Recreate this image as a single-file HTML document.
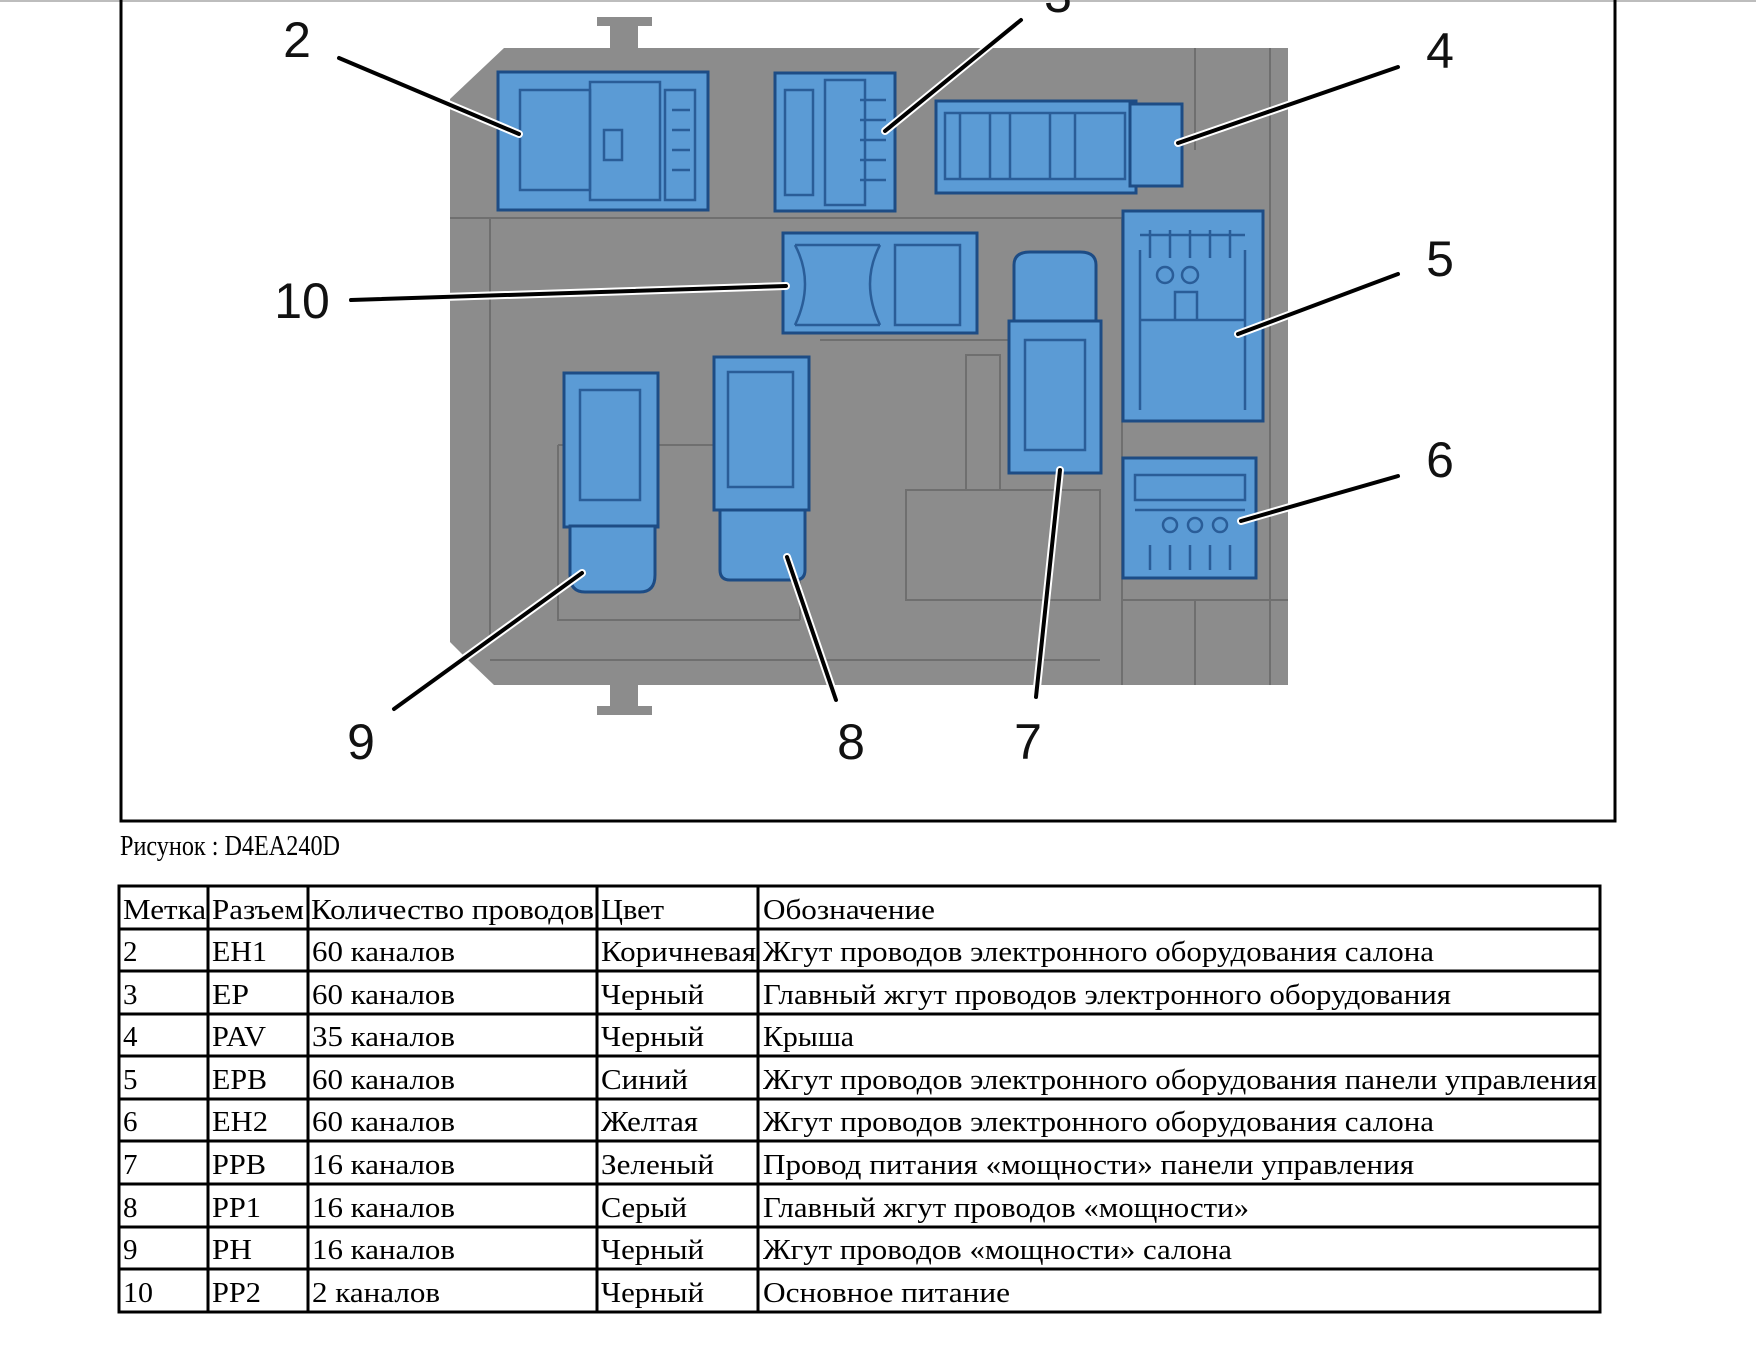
<!DOCTYPE html>
<html><head><meta charset="utf-8"><style>
html,body{margin:0;padding:0;background:#fff;}
svg{display:block;}
.t{font-family:"Liberation Serif",serif;font-size:29px;fill:#000;}
.n{font-family:"Liberation Sans",sans-serif;font-size:50px;fill:#111;}
.bl{fill:#5b9bd5;stroke:#1d4c85;stroke-width:3;}
.bi{fill:none;stroke:#2a5d98;stroke-width:2.5;}
.gl{fill:none;stroke:#6f6f6f;stroke-width:2;}
.ld{stroke:#000;stroke-width:4;fill:none;stroke-linecap:round;}
.hl{stroke:#fff;stroke-width:8;fill:none;stroke-linecap:round;}
</style></head><body>
<svg width="1756" height="1364" viewBox="0 0 1756 1364" xmlns="http://www.w3.org/2000/svg">
<rect x="0" y="0" width="1756" height="2" fill="#bdbdbd"/>
<path d="M121 0 V821 H1615 V0" fill="none" stroke="#000" stroke-width="3"/>
<rect x="610" y="24" width="28" height="26" fill="#8c8c8c"/>
<rect x="597" y="17" width="55" height="9" fill="#8c8c8c"/>
<rect x="610" y="684" width="28" height="24" fill="#8c8c8c"/>
<rect x="597" y="706" width="55" height="9" fill="#8c8c8c"/>
<path d="M504 48 H1288 V685 H494 L470 662 L450 642 V99 Z" fill="#8c8c8c"/>
<path class="gl" d="M450 218 H1122 M490 218 V642 M558 445 H800 V620 M558 445 V620 H800 M906 490 H1100 V600 H906 Z M966 355 H1000 V490 H966 Z M820 340 H1100 M1122 600 H1288 M1195 600 V685 M1270 48 V685 M1195 48 V150 M1122 218 V685 M490 660 H1100"/>
<rect class="bl" x="498" y="72" width="210" height="138"/>
<rect class="bi" x="520" y="90" width="70" height="100"/>
<rect class="bi" x="590" y="82" width="70" height="118"/>
<rect class="bi" x="604" y="130" width="18" height="30"/>
<rect class="bi" x="665" y="90" width="30" height="110"/>
<path class="bi" d="M672 110 h18 M672 130 h18 M672 150 h18 M672 170 h18"/>
<rect class="bl" x="775" y="73" width="120" height="138"/>
<rect class="bi" x="785" y="90" width="28" height="105"/>
<rect class="bi" x="825" y="80" width="40" height="125"/>
<path class="bi" d="M860 100 h26 M860 120 h26 M860 140 h26 M860 160 h26 M860 180 h26"/>
<rect class="bl" x="936" y="101" width="200" height="92"/>
<rect class="bl" x="1130" y="104" width="52" height="82"/>
<rect class="bi" x="945" y="113" width="180" height="66"/>
<path class="bi" d="M960 113 V179 M990 113 V179 M1010 113 V179 M1050 113 V179 M1075 113 V179"/>
<rect class="bl" x="783" y="233" width="194" height="100"/>
<path class="bi" d="M795 245 Q815 283 795 325 M880 245 Q860 283 880 325 M795 245 H880 M795 325 H880 M895 245 H960 V325 H895 Z"/>
<path class="bl" d="M1014 325 V265 Q1014 252 1030 252 H1080 Q1096 252 1096 265 V325 Z"/>
<rect class="bl" x="1009" y="321" width="92" height="152"/>
<rect class="bi" x="1025" y="340" width="60" height="110"/>
<rect class="bl" x="1123" y="211" width="140" height="210"/>
<path class="bi" d="M1140 235 H1245 M1140 250 V410 M1245 250 V410 M1140 320 H1245 M1175 292 h22 v28 h-22 Z M1150 230 V258 M1170 230 V258 M1190 230 V258 M1210 230 V258 M1230 230 V258"/>
<circle class="bi" cx="1165" cy="275" r="8"/><circle class="bi" cx="1190" cy="275" r="8"/>
<rect class="bl" x="1123" y="458" width="133" height="120"/>
<path class="bi" d="M1135 475 H1245 V500 H1135 Z M1135 510 H1245 M1150 545 V570 M1170 545 V570 M1190 545 V570 M1210 545 V570 M1230 545 V570"/>
<circle class="bi" cx="1170" cy="525" r="7"/><circle class="bi" cx="1195" cy="525" r="7"/><circle class="bi" cx="1220" cy="525" r="7"/>
<rect class="bl" x="564" y="373" width="94" height="154"/>
<rect class="bi" x="580" y="390" width="60" height="110"/>
<path class="bl" d="M570 526 H655 V575 Q655 592 640 592 H585 Q570 592 570 575 Z"/>
<rect class="bl" x="714" y="357" width="95" height="153"/>
<rect class="bi" x="728" y="372" width="65" height="115"/>
<path class="bl" d="M720 510 H805 V570 Q805 580 795 580 H730 Q720 580 720 570 Z"/>
<g>
<path class="hl" d="M339 58 L519 134"/><path class="ld" d="M339 58 L519 134"/>
<path class="hl" d="M1021 20 L885 131"/><path class="ld" d="M1021 20 L885 131"/>
<path class="hl" d="M1398 67 L1178 143"/><path class="ld" d="M1398 67 L1178 143"/>
<path class="hl" d="M351 300 L786 286"/><path class="ld" d="M351 300 L786 286"/>
<path class="hl" d="M1398 274 L1238 334"/><path class="ld" d="M1398 274 L1238 334"/>
<path class="hl" d="M1398 476 L1241 521"/><path class="ld" d="M1398 476 L1241 521"/>
<path class="hl" d="M1060 470 L1036 697"/><path class="ld" d="M1060 470 L1036 697"/>
<path class="hl" d="M787 557 L836 700"/><path class="ld" d="M787 557 L836 700"/>
<path class="hl" d="M582 573 L394 709"/><path class="ld" d="M582 573 L394 709"/>
</g>
<text class="n" x="297" y="57" text-anchor="middle">2</text>
<text class="n" x="1058" y="12" text-anchor="middle">3</text>
<text class="n" x="1440" y="68" text-anchor="middle">4</text>
<text class="n" x="302" y="318" text-anchor="middle">10</text>
<text class="n" x="1440" y="276" text-anchor="middle">5</text>
<text class="n" x="1440" y="477" text-anchor="middle">6</text>
<text class="n" x="1028" y="759" text-anchor="middle">7</text>
<text class="n" x="851" y="759" text-anchor="middle">8</text>
<text class="n" x="361" y="759" text-anchor="middle">9</text>
<text class="t" x="120" y="855" font-size="24" textLength="220" lengthAdjust="spacingAndGlyphs">Рисунок : D4EA240D</text>
<g stroke="#000" stroke-width="3" fill="none">
<rect x="119" y="886" width="1481" height="426"/>
<path d="M208 886 V1312 M308 886 V1312 M597 886 V1312 M758 886 V1312"/>
<path d="M119 929 H1600 M119 971 H1600 M119 1014 H1600 M119 1056 H1600 M119 1099 H1600 M119 1141 H1600 M119 1184 H1600 M119 1227 H1600 M119 1269 H1600"/>
</g>
<g class="t">
<text x="123" y="919" textLength="83" lengthAdjust="spacingAndGlyphs">Метка</text>
<text x="212" y="919" textLength="92" lengthAdjust="spacingAndGlyphs">Разъем</text>
<text x="311" y="919" textLength="283" lengthAdjust="spacingAndGlyphs">Количество проводов</text>
<text x="601" y="919" textLength="63" lengthAdjust="spacingAndGlyphs">Цвет</text>
<text x="763" y="919" textLength="172" lengthAdjust="spacingAndGlyphs">Обозначение</text>

<text x="123" y="961">2</text><text x="212" y="961" textLength="55" lengthAdjust="spacingAndGlyphs">EH1</text><text x="312" y="961" textLength="143" lengthAdjust="spacingAndGlyphs">60 каналов</text><text x="601" y="961" textLength="155" lengthAdjust="spacingAndGlyphs">Коричневая</text><text x="763" y="961" textLength="671" lengthAdjust="spacingAndGlyphs">Жгут проводов электронного оборудования салона</text>

<text x="123" y="1004">3</text><text x="212" y="1004" textLength="37" lengthAdjust="spacingAndGlyphs">EP</text><text x="312" y="1004" textLength="143" lengthAdjust="spacingAndGlyphs">60 каналов</text><text x="601" y="1004" textLength="103" lengthAdjust="spacingAndGlyphs">Черный</text><text x="763" y="1004" textLength="688" lengthAdjust="spacingAndGlyphs">Главный жгут проводов электронного оборудования</text>

<text x="123" y="1046">4</text><text x="212" y="1046" textLength="54" lengthAdjust="spacingAndGlyphs">PAV</text><text x="312" y="1046" textLength="143" lengthAdjust="spacingAndGlyphs">35 каналов</text><text x="601" y="1046" textLength="103" lengthAdjust="spacingAndGlyphs">Черный</text><text x="763" y="1046" textLength="91" lengthAdjust="spacingAndGlyphs">Крыша</text>

<text x="123" y="1089">5</text><text x="212" y="1089" textLength="55" lengthAdjust="spacingAndGlyphs">EPB</text><text x="312" y="1089" textLength="143" lengthAdjust="spacingAndGlyphs">60 каналов</text><text x="601" y="1089" textLength="87" lengthAdjust="spacingAndGlyphs">Синий</text><text x="763" y="1089" textLength="834" lengthAdjust="spacingAndGlyphs">Жгут проводов электронного оборудования панели управления</text>

<text x="123" y="1131">6</text><text x="212" y="1131" textLength="56" lengthAdjust="spacingAndGlyphs">EH2</text><text x="312" y="1131" textLength="143" lengthAdjust="spacingAndGlyphs">60 каналов</text><text x="601" y="1131" textLength="97" lengthAdjust="spacingAndGlyphs">Желтая</text><text x="763" y="1131" textLength="671" lengthAdjust="spacingAndGlyphs">Жгут проводов электронного оборудования салона</text>

<text x="123" y="1174">7</text><text x="212" y="1174" textLength="54" lengthAdjust="spacingAndGlyphs">PPB</text><text x="312" y="1174" textLength="143" lengthAdjust="spacingAndGlyphs">16 каналов</text><text x="601" y="1174" textLength="113" lengthAdjust="spacingAndGlyphs">Зеленый</text><text x="763" y="1174" textLength="651" lengthAdjust="spacingAndGlyphs">Провод питания «мощности» панели управления</text>

<text x="123" y="1217">8</text><text x="212" y="1217" textLength="49" lengthAdjust="spacingAndGlyphs">PP1</text><text x="312" y="1217" textLength="143" lengthAdjust="spacingAndGlyphs">16 каналов</text><text x="601" y="1217" textLength="86" lengthAdjust="spacingAndGlyphs">Серый</text><text x="763" y="1217" textLength="486" lengthAdjust="spacingAndGlyphs">Главный жгут проводов «мощности»</text>

<text x="123" y="1259">9</text><text x="212" y="1259" textLength="40" lengthAdjust="spacingAndGlyphs">PH</text><text x="312" y="1259" textLength="143" lengthAdjust="spacingAndGlyphs">16 каналов</text><text x="601" y="1259" textLength="103" lengthAdjust="spacingAndGlyphs">Черный</text><text x="763" y="1259" textLength="469" lengthAdjust="spacingAndGlyphs">Жгут проводов «мощности» салона</text>

<text x="123" y="1302" textLength="30" lengthAdjust="spacingAndGlyphs">10</text><text x="212" y="1302" textLength="49" lengthAdjust="spacingAndGlyphs">PP2</text><text x="312" y="1302" textLength="128" lengthAdjust="spacingAndGlyphs">2 каналов</text><text x="601" y="1302" textLength="103" lengthAdjust="spacingAndGlyphs">Черный</text><text x="763" y="1302" textLength="247" lengthAdjust="spacingAndGlyphs">Основное питание</text>
</g>
</svg>
</body></html>
